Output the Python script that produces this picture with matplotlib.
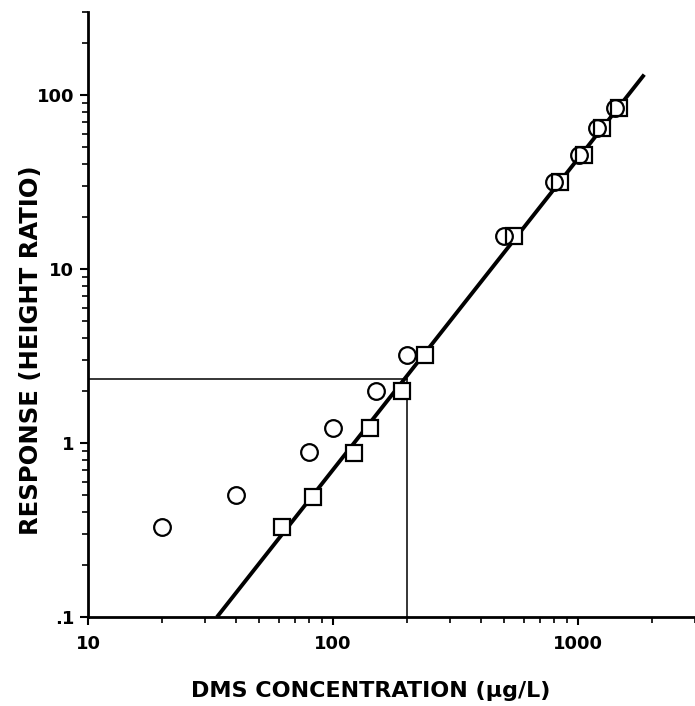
import matplotlib
matplotlib.use("Agg")
import matplotlib.pyplot as plt
from matplotlib.ticker import FixedLocator, LogLocator, NullFormatter

# Data
circle_x = [20, 40, 80, 100, 150, 200, 500, 800, 1010, 1200, 1420]
circle_y = [0.33, 0.5, 0.89, 1.22, 2.0, 3.2, 15.5, 31.5, 45.5, 64.5, 84]
square_x = [62, 83, 122, 142, 191, 238, 546, 845, 1060, 1250, 1465]
square_y = [0.33, 0.49, 0.88, 1.22, 2.0, 3.22, 15.5, 31.5, 45.5, 64.5, 84]
fit_x = [33.6, 1862]
fit_y = [0.1, 131]
ref_x = 200
ref_y = 2.33

xticks = [10, 100, 1000]
xticklabels = ["10", "100", "1000"]
yticks = [0.1, 1, 10, 100]
yticklabels = [".1", "1", "10", "100"]

plt.rcParams['font.family'] = ['DejaVu Sans']
plt.rcParams['font.weight'] = 'bold'

fig = plt.figure(figsize=(6.95, 7.06), dpi=100)
ax = fig.add_axes([88/695, 89/706, (695-88)/695, 605/706])
ax.set_xscale('log')
ax.set_yscale('log')
ax.set_xlim(10, 3000)
ax.set_ylim(0.1, 300)

# reference lines
ax.plot([10, ref_x], [ref_y, ref_y], color='black', lw=1.1, zorder=2)
ax.plot([ref_x, ref_x], [0.1, ref_y], color='black', lw=1.1, zorder=2)
# regression line
ax.plot(fit_x, fit_y, color='black', lw=2.8, solid_capstyle='butt', zorder=3)

ax.plot(square_x, square_y, linestyle='none', marker='s', ms=12, mfc='white',
        mec='black', mew=1.6, zorder=4)
ax.plot(circle_x, circle_y, linestyle='none', marker='o', ms=12, mfc='none',
        mec='black', mew=1.6, zorder=5)

for s in ['top', 'right']:
    ax.spines[s].set_visible(False)
for s in ['left', 'bottom']:
    ax.spines[s].set_linewidth(2.0)

ax.xaxis.set_major_locator(FixedLocator(xticks))
ax.set_xticklabels(xticklabels)
ax.yaxis.set_major_locator(FixedLocator(yticks))
ax.set_yticklabels(yticklabels)
ax.xaxis.set_minor_locator(LogLocator(base=10, subs=range(2, 10)))
ax.yaxis.set_minor_locator(LogLocator(base=10, subs=range(2, 10)))
ax.xaxis.set_minor_formatter(NullFormatter())
ax.yaxis.set_minor_formatter(NullFormatter())
ax.tick_params(which='major', direction='out', length=6, width=1.5, labelsize=13)
ax.tick_params(axis='x', which='major', pad=7)
ax.tick_params(axis='y', which='major', pad=4)
ax.tick_params(which='minor', direction='out', length=4, width=1.2)
for lab in ax.get_xticklabels() + ax.get_yticklabels():
    lab.set_fontweight('bold')

ax.set_xlabel("DMS CONCENTRATION (\u00b5g/L)", fontsize=16, fontweight='bold')
ax.set_ylabel("RESPONSE (HEIGHT RATIO)", fontsize=17.5, fontweight='bold')
ax.xaxis.set_label_coords(0.465, -0.106)
ax.yaxis.set_label_coords(-0.074, 0.441)

fig.savefig("out.png", dpi=100)
